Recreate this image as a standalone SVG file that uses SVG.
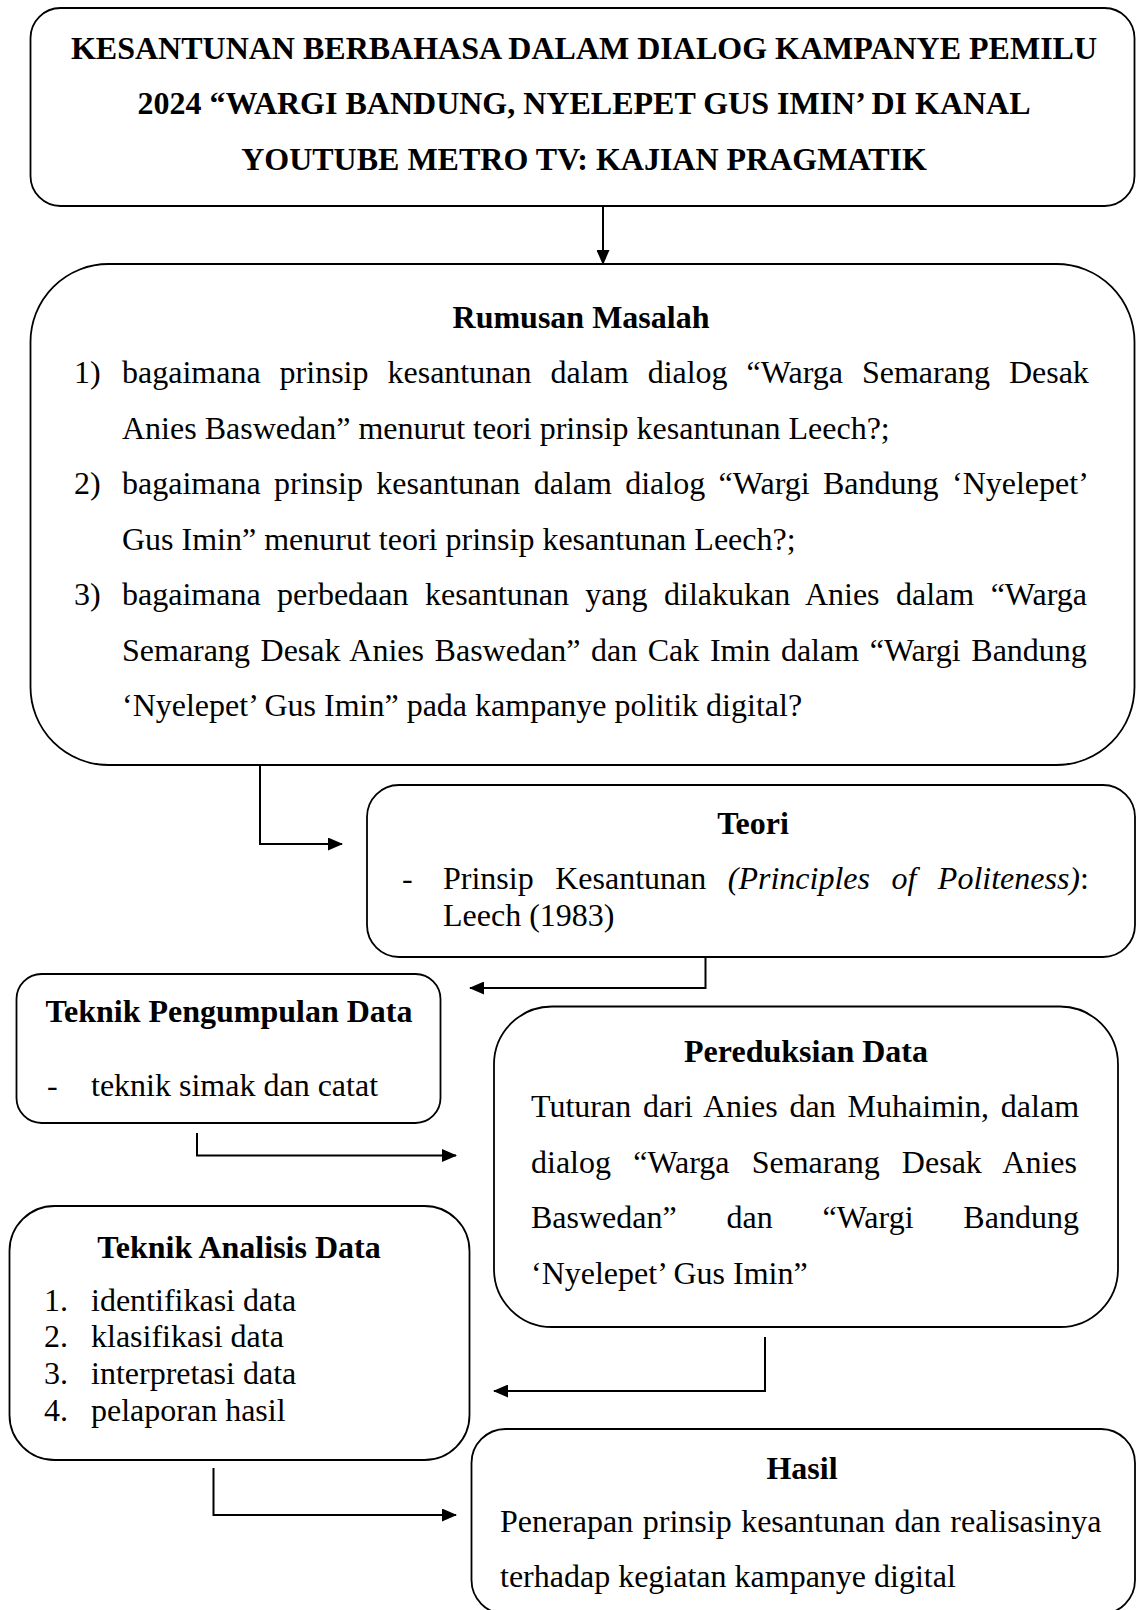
<svg xmlns="http://www.w3.org/2000/svg" width="1137" height="1610" viewBox="0 0 1137 1610">
<defs>
<marker id="ah" markerUnits="userSpaceOnUse" markerWidth="15" markerHeight="13" refX="14" refY="6.5" orient="auto"><path d="M0,0 L15,6.5 L0,13 z" fill="#000"/></marker>
</defs>
<style>
.box{fill:#fff;stroke:#000;stroke-width:1.8}
text{font-family:"Liberation Serif","Times New Roman",serif;font-size:32px;fill:#000}
.b{font-weight:bold}
.c{text-anchor:middle}
.i{font-style:italic}
.conn{fill:none;stroke:#000;stroke-width:2}
</style>
<rect width="1137" height="1610" fill="#fff"/>

<g id="title">
<rect class="box" x="30.5" y="8" width="1104" height="198" rx="30"/>
<text class="b c" x="584" y="59">KESANTUNAN BERBAHASA DALAM DIALOG KAMPANYE PEMILU</text>
<text class="b c" x="584" y="114">2024 “WARGI BANDUNG, NYELEPET GUS IMIN’ DI KANAL</text>
<text class="b c" x="584" y="170">YOUTUBE METRO TV: KAJIAN PRAGMATIK</text>
</g>

<g id="rumusan">
<rect class="box" x="30.5" y="264" width="1104" height="501" rx="78"/>
<text class="b c" x="581" y="328">Rumusan Masalah</text>
<text x="74" y="383">1)</text>
<text x="122" y="383" word-spacing="11">bagaimana prinsip kesantunan dalam dialog “Warga Semarang Desak</text>
<text x="122" y="438.5">Anies Baswedan” menurut teori prinsip kesantunan Leech?;</text>
<text x="74" y="494">2)</text>
<text x="122" y="494" word-spacing="5.4">bagaimana prinsip kesantunan dalam dialog “Wargi Bandung ‘Nyelepet’</text>
<text x="122" y="549.5">Gus Imin” menurut teori prinsip kesantunan Leech?;</text>
<text x="74" y="605">3)</text>
<text x="122" y="605" word-spacing="8.45">bagaimana perbedaan kesantunan yang dilakukan Anies dalam “Warga</text>
<text x="122" y="660.5" word-spacing="2.6">Semarang Desak Anies Baswedan” dan Cak Imin dalam “Wargi Bandung</text>
<text x="122" y="716">‘Nyelepet’ Gus Imin” pada kampanye politik digital?</text>
</g>

<g id="teori">
<rect class="box" x="367" y="785" width="768" height="172" rx="32"/>
<text class="b c" x="753" y="834">Teori</text>
<text x="402" y="889">-</text>
<text x="443" y="889" word-spacing="13.5">Prinsip Kesantunan <tspan class="i">(Principles of Politeness)</tspan>:</text>
<text x="443" y="926">Leech (1983)</text>
</g>

<g id="pengumpulan">
<rect class="box" x="16.5" y="974" width="424" height="149" rx="25"/>
<text class="b c" x="229" y="1022">Teknik Pengumpulan Data</text>
<text x="47" y="1096">-</text>
<text x="91" y="1096">teknik simak dan catat</text>
</g>

<g id="pereduksian">
<rect class="box" x="494" y="1006.5" width="624" height="320.5" rx="58"/>
<text class="b c" x="806" y="1062">Pereduksian Data</text>
<text x="531" y="1117" word-spacing="3.9">Tuturan dari Anies dan Muhaimin, dalam</text>
<text x="531" y="1172.5" word-spacing="14.2">dialog “Warga Semarang Desak Anies</text>
<text x="531" y="1228" word-spacing="41.8">Baswedan” dan “Wargi Bandung</text>
<text x="531" y="1283.5">‘Nyelepet’ Gus Imin”</text>
</g>

<g id="analisis">
<rect class="box" x="9.5" y="1206" width="460" height="254" rx="45"/>
<text class="b c" x="239" y="1258">Teknik Analisis Data</text>
<text x="44" y="1310.5">1.</text><text x="91" y="1310.5">identifikasi data</text>
<text x="44" y="1347.3">2.</text><text x="91" y="1347.3">klasifikasi data</text>
<text x="44" y="1384">3.</text><text x="91" y="1384">interpretasi data</text>
<text x="44" y="1420.8">4.</text><text x="91" y="1420.8">pelaporan hasil</text>
</g>

<g id="hasil">
<rect class="box" x="471.5" y="1429" width="663.5" height="185" rx="34"/>
<text class="b c" x="802" y="1479">Hasil</text>
<text x="500" y="1531.5" word-spacing="1.5">Penerapan prinsip kesantunan dan realisasinya</text>
<text x="500" y="1587">terhadap kegiatan kampanye digital</text>
</g>

<g id="connectors">
<path class="conn" d="M603 206 V264" marker-end="url(#ah)"/>
<path class="conn" d="M260 765 V844 H342" marker-end="url(#ah)"/>
<path class="conn" d="M705.5 957 V988 H470" marker-end="url(#ah)"/>
<path class="conn" d="M197 1133 V1155.5 H456" marker-end="url(#ah)"/>
<path class="conn" d="M765 1337 V1391 H494" marker-end="url(#ah)"/>
<path class="conn" d="M213.5 1468 V1515 H456" marker-end="url(#ah)"/>
</g>
</svg>
